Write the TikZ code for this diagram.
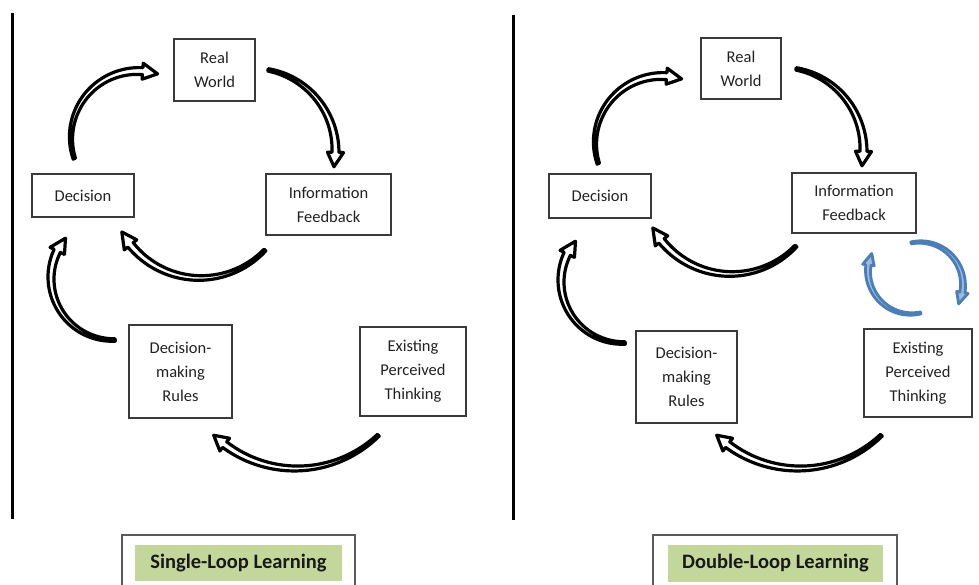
\documentclass[tikz,border=0pt]{standalone}
\usepackage{fontspec}
\setmainfont{Carlito}
\definecolor{boxline}{HTML}{3A3A3A}
\definecolor{textgray}{HTML}{222222}
\definecolor{labelgreen}{HTML}{C4D79B}
\definecolor{frameline}{HTML}{5A5A5A}
\definecolor{loopblue}{HTML}{4A7EBB}
\definecolor{loopfill}{HTML}{9DB9DE}

% Curved block arrow along a circular arc, thin at the tail and widening
% towards the head.  #1 style, #2 centre, #3 radius, #4 tail angle,
% #5 angle where the head starts, #6 angle of the tip.
% Half widths of tail, body and head are taken from \wt, \wb, \wh.
\newcommand\curvedblock[6]{%
  \begin{scope}[shift={(#2)}]
    \pgfmathsetmacro\angA{#4}%
    \pgfmathsetmacro\angB{#5}%
    \draw[#1]
      plot[smooth, variable=\t, samples=25, domain=\angA:\angB]
        (\t:{#3+\wt+(\wb-\wt)*(\t-\angA)/(\angB-\angA)})
      -- (\angB:{#3+\wh}) -- (#6:#3) -- (\angB:{#3-\wh})
      -- plot[smooth, variable=\t, samples=25, domain=\angB:\angA]
        (\t:{#3-\wt-(\wb-\wt)*(\t-\angA)/(\angB-\angA)})
      -- cycle;
  \end{scope}}

\tikzset{
  box/.style={draw=boxline, line width=1.4pt, fill=white, align=center,
    inner sep=0pt, text=textgray, font=\fontsize{16.5}{24}\selectfont},
  blockarrow/.style={draw=black, line width=3.2pt, fill=white, line join=round},
  bluearrow/.style={draw=loopblue, line width=2.8pt, fill=loopfill, line join=round},
  divider/.style={line width=3pt, black},
  labelframe/.style={draw=frameline, line width=2pt},
  labelbox/.style={fill=labelgreen, inner sep=0pt, text=black!90,
    font=\fontsize{20.5}{24}\selectfont\bfseries},
}

\begin{document}
\begin{tikzpicture}[x=1pt, y=-1pt]
  \useasboundingbox (0,0) rectangle (979,585);
  \clip (0,0) rectangle (979,585);

  % ---------------- single loop ----------------
  \draw[divider] (12,13) -- (12,519);

  \node[box, minimum width=81, minimum height=62]  (rwL)  at (214.5,70)   {Real\\World};
  \node[box, minimum width=102, minimum height=43] (decL) at (83,195.5)   {Decision};
  \node[box, minimum width=125, minimum height=61] (ifL)  at (328.5,204.5) {Information\\Feedback};
  \node[box, minimum width=103, minimum height=93] (dmrL) at (180.5,371.5) {Decision-\\making\\Rules};
  \node[box, minimum width=106, minimum height=89] (eptL) at (413,371.5)  {Existing\\Perceived\\Thinking};

  \def\wt{1.2}\def\wb{3.5}\def\wh{8}
  \curvedblock{blockarrow}{138,138}{67}{162}{274}{287}
  \curvedblock{blockarrow}{253,151}{82.5}{280.5}{361}{371}
  \curvedblock{blockarrow}{200,188.6}{89.4}{43.4}{141}{151}
  \curvedblock{blockarrow}{113,278}{62}{88}{206}{220}
  \curvedblock{blockarrow}{296,350}{118.5}{46}{127}{134}

  \draw[labelframe] (122,535) rectangle (355,610);
  \node[labelbox, minimum width=207, minimum height=36] (titleL) at (238.5,563) {Single-Loop Learning};

  % ---------------- double loop ----------------
  \draw[divider] (513,15) -- (513,520);

  \node[box, minimum width=80, minimum height=61]  (rwR)  at (741,68.5)  {Real\\World};
  \node[box, minimum width=102, minimum height=44] (decR) at (600,196)   {Decision};
  \node[box, minimum width=124, minimum height=60] (ifR)  at (854,203)   {Information\\Feedback};
  \node[box, minimum width=101, minimum height=92] (dmrR) at (686.5,377) {Decision-\\making\\Rules};
  \node[box, minimum width=108, minimum height=88] (eptR) at (918,373)   {Existing\\Perceived\\Thinking};

  \curvedblock{blockarrow}{662,143}{67}{162}{274}{287}
  \curvedblock{blockarrow}{781,150}{82.5}{280.5}{361}{371}
  \curvedblock{blockarrow}{731,184.6}{89.4}{43.4}{141}{151}
  \curvedblock{blockarrow}{623,281}{62}{88}{206}{220}
  \curvedblock{blockarrow}{799,350}{118.5}{46}{127}{134}

  % second, inner loop
  \def\wt{1}\def\wb{2.6}\def\wh{5.8}
  \curvedblock{bluearrow}{911,271}{43}{77}{188}{204}
  \curvedblock{bluearrow}{920,285}{43}{258}{370}{386}

  \draw[labelframe] (653,535) rectangle (897,610);
  \node[labelbox, minimum width=215, minimum height=37] (titleR) at (775.5,563.5) {Double-Loop Learning};
\end{tikzpicture}
\end{document}
